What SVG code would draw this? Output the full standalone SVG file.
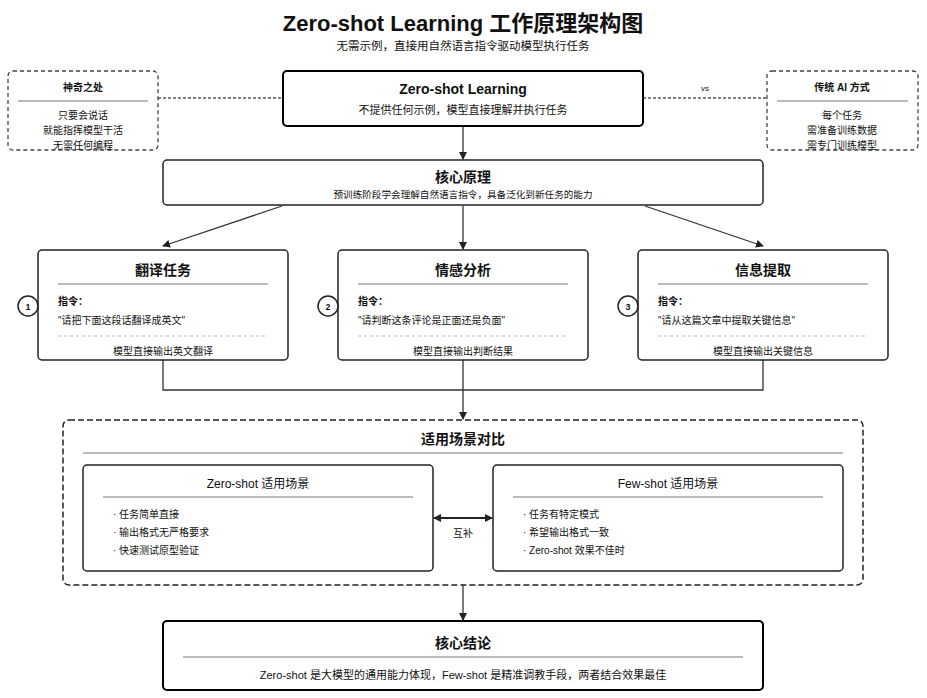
<svg xmlns="http://www.w3.org/2000/svg" width="927" height="698" viewBox="0 0 927 698">
<defs>
<marker id="ah" markerWidth="8" markerHeight="8" refX="7" refY="4" orient="auto" markerUnits="userSpaceOnUse"><path d="M0,0 L8,4 L0,8 z" fill="#222"/></marker>
<marker id="ahs" markerWidth="8" markerHeight="8" refX="1" refY="4" orient="auto" markerUnits="userSpaceOnUse"><path d="M8,0 L0,4 L8,8 z" fill="#222"/></marker>
<style>
text{font-family:"Liberation Sans","Noto Sans CJK SC",sans-serif;fill:#111}
.c{text-anchor:middle}
.b{font-weight:bold}
.box{fill:#fff;stroke:#222;stroke-width:1.5}
.main{fill:#fff;stroke:#000;stroke-width:2}
.dbox{fill:#fff;stroke:#444;stroke-width:1.3;stroke-dasharray:4 3}
.cont{fill:#fff;stroke:#222;stroke-width:1.5;stroke-dasharray:6 3}
.div{stroke:#bbb;stroke-width:2}
.ddiv{stroke:#bbb;stroke-width:1;stroke-dasharray:3 3}
.ln{fill:none;stroke:#333;stroke-width:1.3}
.dl{fill:none;stroke:#555;stroke-width:1.3;stroke-dasharray:3 2}
.s9{font-size:9px}.s10{font-size:10px}.s11{font-size:11px}.s12{font-size:12px}.s14{font-size:14px}
</style>
</defs>
<rect width="927" height="698" fill="#fff"/>
<g id="title">
<text x="463" y="31" class="c b" font-size="22">Zero-shot Learning 工作原理架构图</text>
<text x="463" y="50" class="c" font-size="11.5">无需示例，直接用自然语言指令驱动模型执行任务</text>
</g>
<g id="connectors">
<line x1="158" y1="98" x2="283" y2="98" class="dl"/>
<line x1="643" y1="98" x2="767" y2="98" class="dl"/>
<text x="705" y="91" class="c" font-size="8">vs</text>
<line x1="463" y1="126" x2="463" y2="159" class="ln" marker-end="url(#ah)"/>
<line x1="282" y1="206" x2="163" y2="246" class="ln" marker-end="url(#ah)"/>
<line x1="463" y1="206" x2="463" y2="249" class="ln" marker-end="url(#ah)"/>
<line x1="645" y1="206" x2="763" y2="246" class="ln" marker-end="url(#ah)"/>
<polyline points="163,360 163,390 763,390 763,360" class="ln"/>
<line x1="463" y1="360" x2="463" y2="419" class="ln" marker-end="url(#ah)"/>
<line x1="463" y1="585" x2="463" y2="620" class="ln" marker-end="url(#ah)"/>
</g>
<g id="magic">
<rect x="8" y="71" width="150" height="79" rx="5" class="dbox"/>
<text x="83" y="91" class="c b s10">神奇之处</text>
<line x1="18" y1="101" x2="148" y2="101" class="div"/>
<text x="83" y="119" class="c s10">只要会说话</text>
<text x="83" y="134" class="c s10">就能指挥模型干活</text>
<text x="83" y="149" class="c s10">无需任何编程</text>
</g>
<g id="traditional">
<rect x="767" y="71" width="151" height="79" rx="5" class="dbox"/>
<text x="842" y="91" class="c b s10">传统 AI 方式</text>
<line x1="777" y1="101" x2="908" y2="101" class="div"/>
<text x="842" y="119" class="c s10">每个任务</text>
<text x="842" y="134" class="c s10">需准备训练数据</text>
<text x="842" y="149" class="c s10">需专门训练模型</text>
</g>
<g id="zsl">
<rect x="283" y="71" width="360" height="55" rx="4" class="main"/>
<text x="463" y="94" class="c b s14">Zero-shot Learning</text>
<text x="463" y="114" class="c s11">不提供任何示例，模型直接理解并执行任务</text>
</g>
<g id="core">
<rect x="163" y="160" width="600" height="45" rx="4" class="box"/>
<text x="463" y="182" class="c b s14">核心原理</text>
<text x="463" y="198" class="c" font-size="9.6">预训练阶段学会理解自然语言指令，具备泛化到新任务的能力</text>
</g>
<g id="task1">
<rect x="38" y="250" width="250" height="110" rx="4" class="box"/>
<text x="163" y="275" class="c b s14">翻译任务</text>
<line x1="58" y1="284" x2="268" y2="284" class="div"/>
<text x="58" y="305" class="b s10">指令：</text>
<text x="58" y="324" class="s10">"请把下面这段话翻译成英文"</text>
<line x1="58" y1="336" x2="268" y2="336" class="ddiv"/>
<text x="163" y="355" class="c s10">模型直接输出英文翻译</text>
<circle cx="28" cy="306" r="10" class="box" stroke-width="1.2"/>
<text x="28" y="310" class="c b" font-size="9">1</text>
</g>
<g id="task2">
<rect x="338" y="250" width="250" height="110" rx="4" class="box"/>
<text x="463" y="275" class="c b s14">情感分析</text>
<line x1="358" y1="284" x2="568" y2="284" class="div"/>
<text x="358" y="305" class="b s10">指令：</text>
<text x="358" y="324" class="s10">"请判断这条评论是正面还是负面"</text>
<line x1="358" y1="336" x2="568" y2="336" class="ddiv"/>
<text x="463" y="355" class="c s10">模型直接输出判断结果</text>
<circle cx="328" cy="306" r="10" class="box" stroke-width="1.2"/>
<text x="328" y="310" class="c b" font-size="9">2</text>
</g>
<g id="task3">
<rect x="638" y="250" width="250" height="110" rx="4" class="box"/>
<text x="763" y="275" class="c b s14">信息提取</text>
<line x1="658" y1="284" x2="868" y2="284" class="div"/>
<text x="658" y="305" class="b s10">指令：</text>
<text x="658" y="324" class="s10">"请从这篇文章中提取关键信息"</text>
<line x1="658" y1="336" x2="868" y2="336" class="ddiv"/>
<text x="763" y="355" class="c s10">模型直接输出关键信息</text>
<circle cx="628" cy="306" r="10" class="box" stroke-width="1.2"/>
<text x="628" y="310" class="c b" font-size="9">3</text>
</g>
<g id="compare">
<rect x="63" y="420" width="800" height="165" rx="6" class="cont"/>
<text x="463" y="444" class="c b s14">适用场景对比</text>
<line x1="83" y1="453" x2="843" y2="453" class="div"/>
</g>
<g id="zeroshot-scene">
<rect x="83" y="465" width="350" height="106" rx="4" class="box"/>
<text x="258" y="488" class="c s12">Zero-shot 适用场景</text>
<line x1="103" y1="497" x2="413" y2="497" class="div"/>
<text x="113" y="518" class="s10">· 任务简单直接</text>
<text x="113" y="536" class="s10">· 输出格式无严格要求</text>
<text x="113" y="554" class="s10">· 快速测试原型验证</text>
</g>
<g id="fewshot-scene">
<rect x="493" y="465" width="350" height="106" rx="4" class="box"/>
<text x="668" y="488" class="c s12">Few-shot 适用场景</text>
<line x1="513" y1="497" x2="823" y2="497" class="div"/>
<text x="523" y="518" class="s10">· 任务有特定模式</text>
<text x="523" y="536" class="s10">· 希望输出格式一致</text>
<text x="523" y="554" class="s10">· Zero-shot 效果不佳时</text>
</g>
<g id="complement">
<line x1="434" y1="518" x2="492" y2="518" stroke="#222" stroke-width="2" marker-start="url(#ahs)" marker-end="url(#ah)"/>
<text x="463" y="537" class="c s10">互补</text>
</g>
<g id="conclusion">
<rect x="163" y="621" width="600" height="69" rx="4" class="main"/>
<text x="463" y="648" class="c b s14">核心结论</text>
<line x1="183" y1="657" x2="743" y2="657" class="div"/>
<text x="463" y="679" class="c s11">Zero-shot 是大模型的通用能力体现，Few-shot 是精准调教手段，两者结合效果最佳</text>
</g>
</svg>
